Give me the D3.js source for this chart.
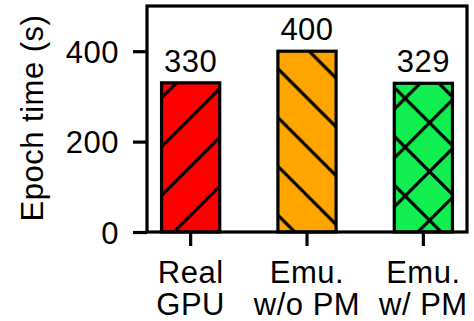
<!DOCTYPE html>
<html>
<head>
<meta charset="utf-8">
<script src="https://cdn.jsdelivr.net/npm/d3@7"></script>
<style>
  html, body { margin: 0; padding: 0; background: #ffffff; }
  svg { display: block; }
  text { font-family: "Liberation Sans", Arial, Helvetica, sans-serif; fill: #000; }
</style>
</head>
<body>
<script>
// Epoch time per configuration
const categories = ["Real GPU", "Emu. w/o PM", "Emu. w/ PM"];
const categoryLines = [["Real", "GPU"], ["Emu.", "w/o PM"], ["Emu.", "w/ PM"]];
const epochTimes = [330, 400, 329];
const barColors = ["#ff0000", "#ffa500", "#10ee50"];
const barHatches = ["/", "\\", "x"];
const yTickValues = [0, 200, 400];
const yLabel = "Epoch time (s)";

const W = 474, H = 321;
const plot = { left: 147, right: 467, top: 6, bottom: 232 };
const fontSize = 31;
const letterSp = "0.5px";
const lineW = 3.2;

const svg = d3.select("body").append("svg")
  .attr("width", W).attr("height", H);

const x = d3.scaleBand()
  .domain(categories)
  .range([plot.left, plot.right])
  .paddingInner(0.5)
  .paddingOuter(0.125);

const y = d3.scaleLinear()
  .domain([0, 500])
  .range([plot.bottom, plot.top]);

// Hatch patterns share one global grid so stripes line up across bars
const P = 48.8, ox = 14.75, oy = 0.75, s = 4, hatchW = 3.1;
const slash = `M${-s},${P + s}L${P + s},${-s}M${-s},${s}L${s},${-s}M${P - s},${P + s}L${P + s},${P - s}`;
const backslash = `M${-s},${-s}L${P + s},${P + s}M${P - s},${-s}L${P + s},${s}M${-s},${P - s}L${s},${P + s}`;
const hatchPaths = { "/": slash, "\\": backslash, "x": slash + backslash };

const defs = svg.append("defs");
barHatches.forEach((h, i) => {
  const pat = defs.append("pattern")
    .attr("id", "hatch" + i)
    .attr("patternUnits", "userSpaceOnUse")
    .attr("x", ox).attr("y", oy)
    .attr("width", P).attr("height", P);
  pat.append("path")
    .attr("d", hatchPaths[h])
    .attr("stroke", "#000")
    .attr("stroke-width", hatchW)
    .attr("fill", "none");
});

const bars = svg.append("g").selectAll("g")
  .data(categories)
  .join("g");

// fill colour
bars.append("rect")
  .attr("x", d => x(d))
  .attr("y", (d, i) => y(epochTimes[i]))
  .attr("width", x.bandwidth())
  .attr("height", (d, i) => y(0) - y(epochTimes[i]))
  .attr("fill", (d, i) => barColors[i]);

// hatch overlay
bars.append("rect")
  .attr("x", d => x(d))
  .attr("y", (d, i) => y(epochTimes[i]))
  .attr("width", x.bandwidth())
  .attr("height", (d, i) => y(0) - y(epochTimes[i]))
  .attr("fill", (d, i) => `url(#hatch${i})`);

// outline
bars.append("rect")
  .attr("x", d => x(d))
  .attr("y", (d, i) => y(epochTimes[i]))
  .attr("width", x.bandwidth())
  .attr("height", (d, i) => y(0) - y(epochTimes[i]))
  .attr("fill", "none")
  .attr("stroke", "#000")
  .attr("stroke-width", lineW);

// value labels
bars.append("text")
  .attr("x", d => x(d) + x.bandwidth() / 2)
  .attr("y", (d, i) => y(epochTimes[i]) - 11)
  .attr("text-anchor", "middle")
  .attr("font-size", fontSize)
  .attr("letter-spacing", letterSp)
  .text((d, i) => epochTimes[i]);

// frame
svg.append("rect")
  .attr("x", plot.left).attr("y", plot.top)
  .attr("width", plot.right - plot.left)
  .attr("height", plot.bottom - plot.top)
  .attr("fill", "none")
  .attr("stroke", "#000")
  .attr("stroke-width", lineW);

// y axis
const yAxis = svg.append("g")
  .attr("transform", `translate(${plot.left},0)`)
  .call(d3.axisLeft(y).tickValues(yTickValues).tickSize(14).tickPadding(14));
yAxis.select(".domain").remove();
yAxis.selectAll(".tick line").attr("stroke", "#000").attr("stroke-width", lineW);
yAxis.selectAll(".tick text")
  .attr("font-size", fontSize)
  .attr("font-family", null)
  .attr("letter-spacing", letterSp)
  .attr("dy", "0.36em");

// x axis
const xAxis = svg.append("g")
  .attr("transform", `translate(0,${plot.bottom})`)
  .call(d3.axisBottom(x).tickSize(14).tickFormat(""));
xAxis.select(".domain").remove();
xAxis.selectAll(".tick line").attr("stroke", "#000").attr("stroke-width", lineW);
xAxis.selectAll(".tick text").remove();
xAxis.selectAll(".tick").each(function (d, i) {
  const t = d3.select(this).append("text")
    .attr("text-anchor", "middle")
    .attr("font-size", fontSize)
    .attr("letter-spacing", letterSp);
  categoryLines[i].forEach((line, k) => {
    t.append("tspan").attr("x", 0).attr("y", 50.5 + k * 32).text(line);
  });
});

// y axis title
svg.append("text")
  .attr("transform", `translate(43,${(plot.top + plot.bottom) / 2 - 1}) rotate(-90)`)
  .attr("text-anchor", "middle")
  .attr("font-size", fontSize)
  .attr("letter-spacing", letterSp)
  .text(yLabel);
</script>
</body>
</html>
